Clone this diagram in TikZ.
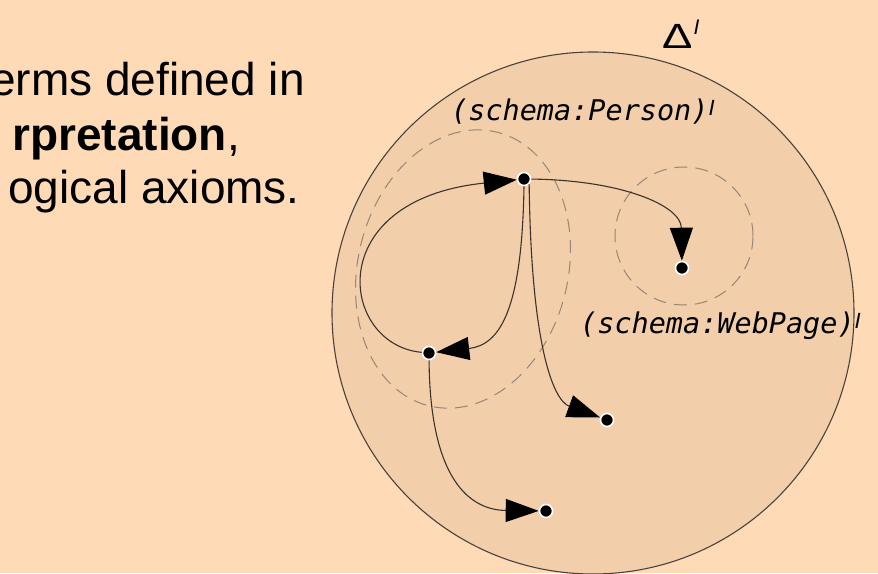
\documentclass[tikz,border=0pt]{standalone}
\usepackage{fontspec}
\setmainfont{Liberation Sans}
\newfontfamily\codefont{DejaVu Sans Mono}
\usetikzlibrary{arrows.meta}

\definecolor{pagebg}{HTML}{FFDAB6}
\definecolor{domainfill}{HTML}{F2CEAB}
\definecolor{domainline}{HTML}{4A423C}
\definecolor{extline}{HTML}{978777}
\definecolor{edgeline}{HTML}{3A332E}

\tikzset{
  elem/.style={circle, fill=black, draw=white, line width=1.6pt,
               minimum size=13pt, inner sep=0pt},
  rel/.style={draw=edgeline, line width=1.1pt,
              -{Triangle[length=33pt, width=23pt, color=black]}},
  ext/.style={draw=extline, line width=1pt, dash pattern=on 13pt off 8pt},
  body/.style={inner sep=0pt, font=\fontsize{46}{46}\selectfont},
  lbl/.style={inner sep=0pt, font=\codefont\itshape\fontsize{28.5}{28.5}\selectfont},
}
% superscript I of an interpretation, set in the sans italic
\newcommand{\interp}[2]{\raisebox{#1}{\rmfamily\itshape\fontsize{#2}{#2}\selectfont I}}

\begin{document}
\begin{tikzpicture}[x=1pt, y=-1pt]
  % page
  \fill[pagebg] (0,0) rectangle (878,573);
  \useasboundingbox (0,0) rectangle (878,573);

  % body text
  \node[body, anchor=base east] (t1) at (305,95) {erms defined in};
  \node[body, anchor=base east] (t2) at (240,150) {\textbf{rpretation},};
  \node[body, anchor=base east] (t3) at (300,203) {ogical axioms.};

  % interpretation domain
  \filldraw[fill=domainfill, draw=domainline, line width=1.1pt]
    (593,313) circle[radius=261pt];
  \node[inner sep=0pt, anchor=base west, font=\fontsize{35}{35}\selectfont]
    (delta) at (662,48) {\scalebox{1.3}[1]{Δ}\hspace{1pt}\interp{14pt}{21}};

  % extensions of the two classes
  \draw[ext, rotate around={-14:(463,269)}] (463,269) ellipse[x radius=105pt, y radius=141pt];
  \draw[ext] (684,236) circle[radius=69pt];

  \node[lbl, anchor=base west] (lperson) at (451,120) {(schema:Person)\interp{5pt}{22}};
  \node[lbl, anchor=base west] (lpage) at (580,333) {(schema:WebPage)\interp{5pt}{22}};

  % individuals
  \node[elem] (A) at (524,179) {};
  \node[elem] (B) at (429,353) {};
  \node[elem] (C) at (682,268) {};
  \node[elem] (D) at (607,420) {};
  \node[elem] (E) at (546,511) {};

  % relations between individuals
  \draw[rel] (B) .. controls (340,345) and (320,200) .. (A);
  \draw[rel] (A.south) .. controls (522,310) and (500,345) .. (B);
  \draw[rel] (A) .. controls (620,180) and (681,205) .. (C);
  \draw[rel] (A.south east) .. controls (531,340) and (552,400) .. (D);
  \draw[rel] (B) .. controls (430,480) and (470,510) .. (E);
\end{tikzpicture}
\end{document}
